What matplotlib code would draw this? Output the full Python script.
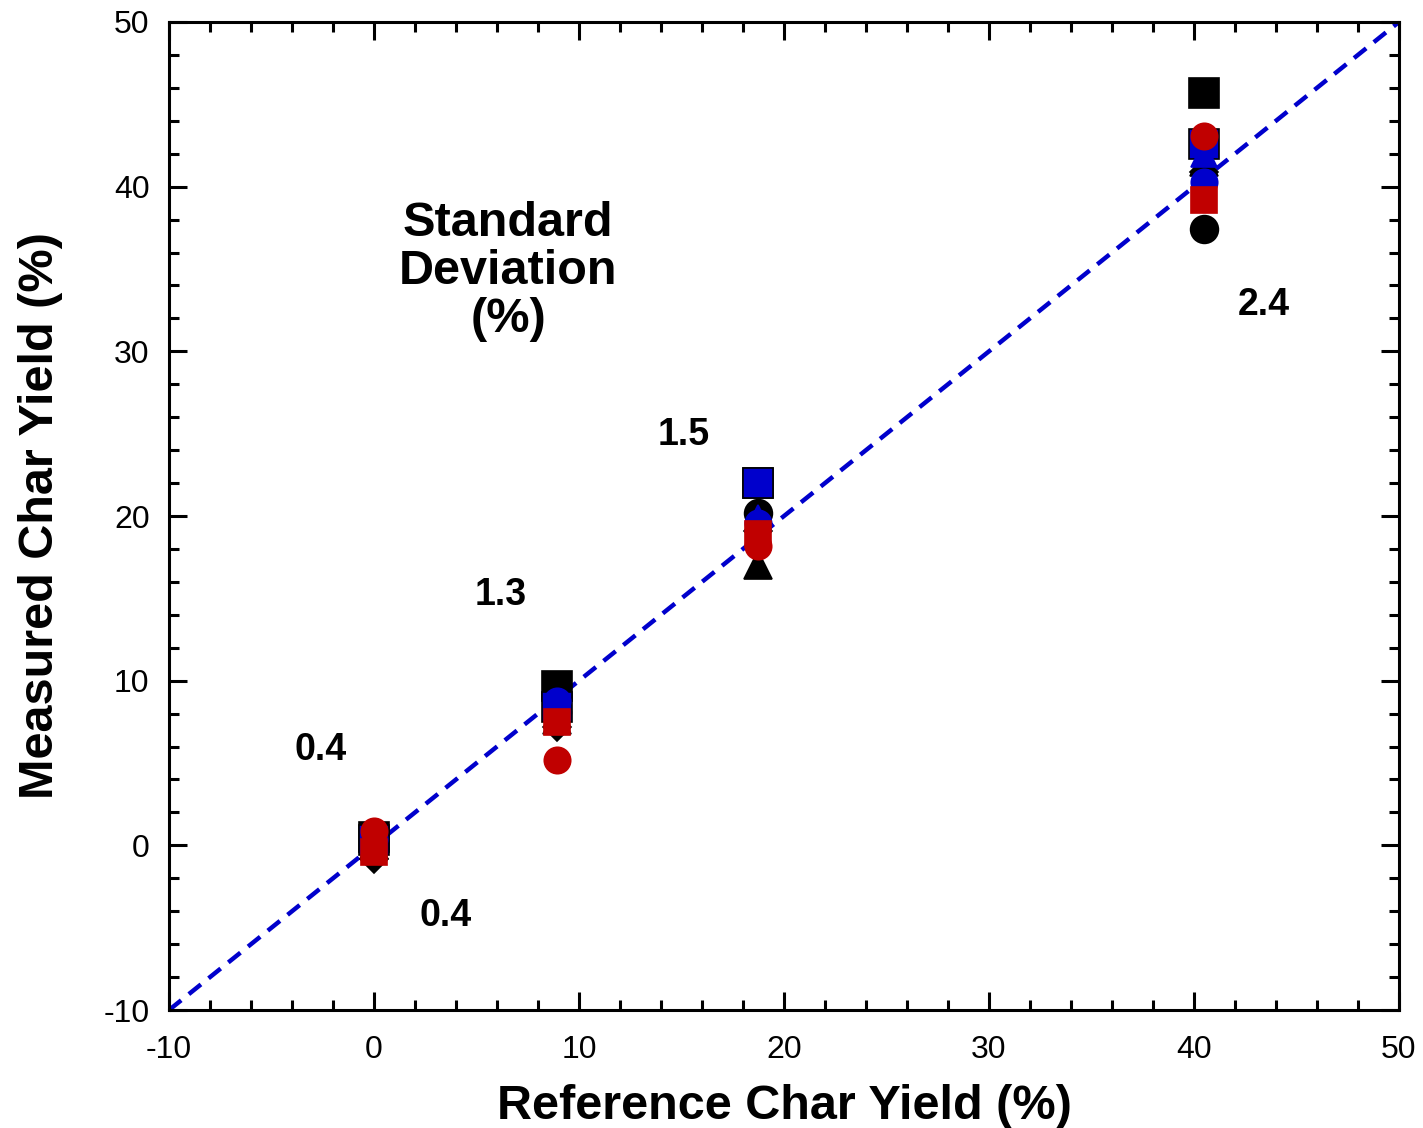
import numpy as np
import matplotlib.pyplot as plt

plt.rcParams['font.family'] = ['Liberation Sans', 'DejaVu Sans']
plt.rcParams['axes.unicode_minus'] = False

# reference char yield (%) for the four samples
ref = [0.0, 8.93, 18.73, 40.49]

# measured char yield (%) per lab / method
black_square = [0.5, 9.7, 22.0, 45.7]
black_circle = [0.2, 8.1, 20.2, 37.4]
black_diamond = [-0.8, 7.2, 19.1, 40.9]
black_triangle = [0.0, 7.6, 17.0, 41.5]
blue_square = [0.3, 8.4, 22.0, 42.6]
blue_circle = [0.4, 8.75, 19.6, 40.3]
blue_triangle = [0.2, 8.5, 19.9, 42.0]
red_square = [-0.4, 7.5, 18.9, 39.2]
red_circle = [0.9, 5.2, 18.2, 43.1]

# standard deviation labels
sd_text = ['0.4', '0.4', '1.3', '1.5', '2.4']
sd_x = [-2.6, 3.5, 6.2, 15.1, 43.4]
sd_y = [5.8, -4.3, 15.2, 24.9, 32.8]

blk = 'k'
blu = '#0000CC'
red = '#C00000'

fig = plt.figure(figsize=(14.23, 11.28), dpi=100)
ax = fig.add_axes([0.1188, 0.1046, 0.8643, 0.8759])

ax.plot([-10, 50], [-10, 50], ls=(0, (3.5, 2.2)), color=blu, lw=3.2, zorder=1)

series = [
    (black_square, 's', blk, 21),
    (black_circle, 'o', blk, 20),
    (black_diamond, 'D', blk, 14),
    (black_triangle, '^', blk, 20),
    (blue_square, 's', blu, 21),
    (blue_circle, 'o', blu, 19),
    (blue_triangle, '^', blu, 19),
    (red_square, 's', red, 19),
    (red_circle, 'o', red, 19),
]
for vals, mk, col, ms in series:
    ec = 'k' if (mk == 's' and col == blu) else col
    ax.plot(ref, vals, ls='', marker=mk, color=col, ms=ms,
            mec=ec, mew=1.2, zorder=3)

for t, x, y in zip(sd_text, sd_x, sd_y):
    ax.text(x, y, t, fontsize=27, fontweight='bold', ha='center', va='center')

ax.text(6.54, 34.85, 'Standard\nDeviation\n(%)', fontsize=35, fontweight='bold',
        ha='center', va='center', linespacing=1.08)

ax.set_xlim(-10, 50)
ax.set_ylim(-10, 50)
ax.set_xticks(np.arange(-10, 51, 10))
ax.set_yticks(np.arange(-10, 51, 10))
ax.set_xticks(np.arange(-10, 51, 2), minor=True)
ax.set_yticks(np.arange(-10, 51, 2), minor=True)
ax.tick_params(which='both', direction='in', top=True, right=True, width=2.2,
               labelsize=23)
ax.tick_params(axis='x', which='major', pad=18)
ax.tick_params(axis='y', which='major', pad=14)
ax.tick_params(which='major', length=13)
ax.tick_params(which='minor', length=7)
for s in ax.spines.values():
    s.set_linewidth(2.2)

ax.set_xlabel('Reference Char Yield (%)', fontsize=35, fontweight='bold', labelpad=14)
ax.set_ylabel('Measured Char Yield (%)', fontsize=35, fontweight='bold', labelpad=29)

fig.savefig('out.png', dpi=100)
